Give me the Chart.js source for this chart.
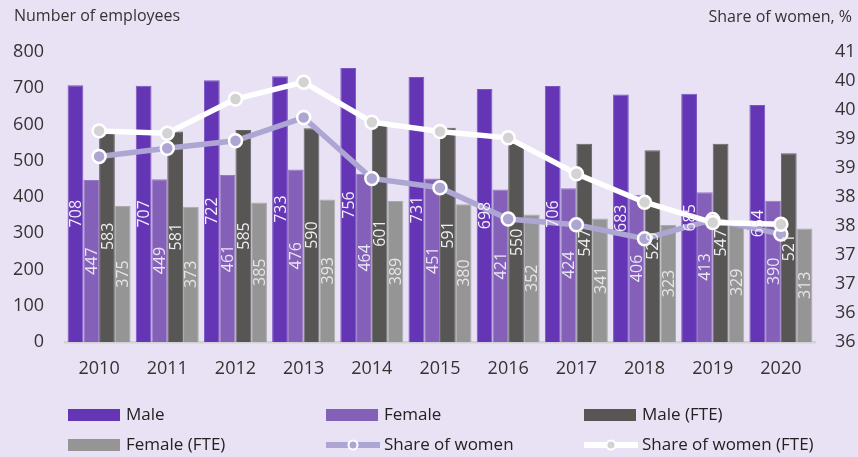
<!DOCTYPE html>
<html>
<head>
<meta charset="utf-8">
<script src="https://cdn.jsdelivr.net/npm/chart.js@4/dist/chart.umd.min.js"></script>
<style>
  html, body { margin: 0; padding: 0; background: #E9E2F4; }
</style>
</head>
<body>
<canvas id="myChart" width="858" height="457"></canvas>
<script>
var years = ['2010', '2011', '2012', '2013', '2014', '2015', '2016', '2017', '2018', '2019', '2020'];
var male = [708, 707, 722, 733, 756, 731, 698, 706, 683, 685, 654];
var female = [447, 449, 461, 476, 464, 451, 421, 424, 406, 413, 390];
var maleFte = [583, 581, 585, 590, 601, 591, 550, 547, 529, 547, 521];
var femaleFte = [375, 373, 385, 393, 389, 380, 352, 341, 323, 329, 313];
var shareWomen = [38.70, 38.84, 38.97, 39.37, 38.32, 38.16, 37.62, 37.52, 37.28, 37.61, 37.36];
var shareWomenFte = [39.14, 39.10, 39.69, 39.98, 39.29, 39.13, 39.02, 38.40, 37.91, 37.56, 37.53];

var leftTicks = [0, 100, 200, 300, 400, 500, 600, 700, 800];
var rightTicks = [35.5, 36, 36.5, 37, 37.5, 38, 38.5, 39, 39.5, 40, 40.5];

var FONT = '"Open Sans", sans-serif';

// value labels, rotated, in the middle of each bar (drawn on top of everything)
var barLabels = {
  id: 'barLabels',
  afterDatasetsDraw: function(chart) {
    var ctx = chart.ctx;
    chart.data.datasets.forEach(function(ds, i) {
      if (ds.type === 'line') return;
      chart.getDatasetMeta(i).data.forEach(function(bar, j) {
        var p = bar.getProps(['x', 'y', 'base'], true);
        ctx.save();
        ctx.translate(p.x, (p.y + p.base) / 2);
        ctx.rotate(-Math.PI / 2);
        ctx.font = '16px ' + FONT;
        ctx.fillStyle = ds.labelColor;
        ctx.textAlign = 'center';
        ctx.textBaseline = 'middle';
        ctx.fillText(ds.data[j], 0, 1);
        ctx.restore();
      });
    });
  }
};

// axis captions at the top corners
var captions = {
  id: 'captions',
  afterDraw: function(chart) {
    var ctx = chart.ctx;
    ctx.save();
    ctx.font = '16px ' + FONT;
    ctx.fillStyle = '#333';
    ctx.textBaseline = 'middle';
    ctx.textAlign = 'left';
    ctx.fillText('Number of employees', 14, 16);
    ctx.textAlign = 'right';
    ctx.fillText('Share of women, %', chart.width - 6, 17);
    ctx.restore();
  }
};

// legend in a 3 column grid
var gridLegend = {
  id: 'gridLegend',
  afterDraw: function(chart) {
    var ctx = chart.ctx;
    ctx.save();
    chart.data.datasets.forEach(function(ds, i) {
      var x0 = 68 + (i % 3) * 258;
      var yc = 415 + Math.floor(i / 3) * 30;
      if (ds.type === 'line') {
        ctx.strokeStyle = ds.borderColor;
        ctx.lineWidth = 6;
        ctx.beginPath();
        ctx.moveTo(x0, yc);
        ctx.lineTo(x0 + 54, yc);
        ctx.stroke();
        ctx.beginPath();
        ctx.arc(x0 + 27, yc, 4.5, 0, Math.PI * 2);
        ctx.fillStyle = ds.pointBackgroundColor;
        ctx.fill();
        ctx.lineWidth = 2;
        ctx.strokeStyle = '#fff';
        ctx.stroke();
      } else {
        ctx.fillStyle = ds.backgroundColor;
        ctx.fillRect(x0, yc - 6, 52, 12);
      }
      ctx.font = '17px ' + FONT;
      ctx.fillStyle = '#222';
      ctx.textAlign = 'left';
      ctx.textBaseline = 'middle';
      ctx.fillText(ds.label, x0 + 58, yc);
    });
    ctx.restore();
  }
};

var barDefaults = {
  type: 'bar',
  yAxisID: 'y',
  order: 3,
  borderWidth: 1,
  categoryPercentage: 0.924,
  barPercentage: 1.0
};

var ctx = document.getElementById('myChart').getContext('2d');

var myChart = new Chart(ctx, {
  data: {
    labels: years,
    datasets: [
      Object.assign({}, barDefaults, {
        label: 'Male', data: male,
        backgroundColor: '#6435B5', borderColor: '#7A56C2', labelColor: '#F4F0FA'
      }),
      Object.assign({}, barDefaults, {
        label: 'Female', data: female,
        backgroundColor: '#8560B8', borderColor: '#9779C4', labelColor: '#EAE4F4'
      }),
      Object.assign({}, barDefaults, {
        label: 'Male (FTE)', data: maleFte,
        backgroundColor: '#575655', borderColor: '#666', labelColor: '#EEEEEE'
      }),
      Object.assign({}, barDefaults, {
        label: 'Female (FTE)', data: femaleFte,
        backgroundColor: '#959595', borderColor: '#ABABAB', labelColor: '#E6E6E6'
      }),
      {
        type: 'line', label: 'Share of women', data: shareWomen,
        yAxisID: 'y1', order: 2,
        borderColor: '#ADA6D3', borderWidth: 5.5,
        pointRadius: 6.5, pointBorderWidth: 2.5,
        pointBackgroundColor: '#ADA6D3', pointBorderColor: '#fff',
        tension: 0
      },
      {
        type: 'line', label: 'Share of women (FTE)', data: shareWomenFte,
        yAxisID: 'y1', order: 1,
        borderColor: '#FFFFFF', borderWidth: 5.5,
        pointRadius: 6.5, pointBorderWidth: 2.5,
        pointBackgroundColor: '#D3D3D3', pointBorderColor: '#fff',
        tension: 0
      }
    ]
  },
  options: {
    responsive: false,
    animation: false,
    devicePixelRatio: 1,
    layout: { padding: { top: 52, bottom: 75, left: 0, right: 0 } },
    plugins: {
      legend: { display: false },
      tooltip: { enabled: false }
    },
    scales: {
      x: {
        grid: { display: false, drawTicks: false },
        border: { display: true, color: '#D2D2D2', width: 2.5 },
        ticks: { color: '#333', font: { family: FONT, size: 18 }, padding: 16 },
        afterFit: function(s) { s.height = 40; }
      },
      y: {
        position: 'left',
        min: 0, max: 800,
        grid: { display: false, drawTicks: false },
        border: { display: false },
        afterBuildTicks: function(s) { s.ticks = leftTicks.map(function(v) { return { value: v }; }); },
        ticks: { color: '#333', font: { family: FONT, size: 18 }, padding: 21 },
        afterFit: function(s) { s.width = 65; }
      },
      y1: {
        position: 'right',
        min: 35.5, max: 40.5,
        grid: { display: false, drawTicks: false },
        border: { display: false },
        afterBuildTicks: function(s) { s.ticks = rightTicks.map(function(v) { return { value: v }; }); },
        ticks: {
          color: '#333', font: { family: FONT, size: 18 }, padding: 20,
          callback: function(value) { return Math.round(value); }
        },
        afterFit: function(s) { s.width = 43; }
      }
    }
  },
  plugins: [barLabels, captions, gridLegend]
});
</script>
</body>
</html>
